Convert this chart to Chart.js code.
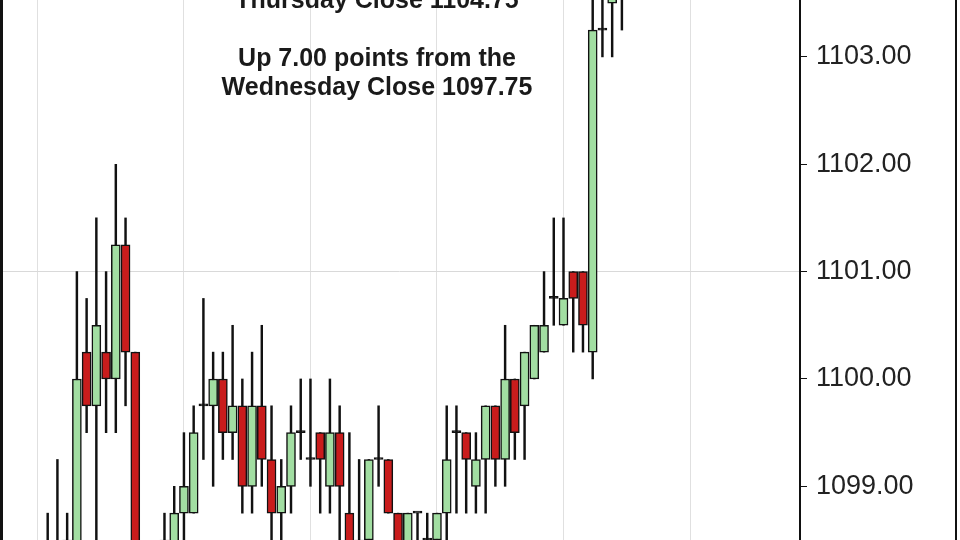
<!DOCTYPE html>
<html>
<head>
<meta charset="utf-8">
<title>ES Thursday Close</title>
<script src="https://cdn.jsdelivr.net/npm/chart.js@4.4.1/dist/chart.umd.min.js"></script>
<style>
    html, body { margin: 0; padding: 0; background: #ffffff; }
    #wrap { width: 960px; height: 540px; position: relative; }
</style>
</head>
<body>
<div id="wrap"><canvas id="candleChart"></canvas></div>
<script>
// Candle values (0.25 point steps)
const opens  = [1098.25, 1098.0, 1098.25, 1098.25, 1100.25, 1099.75, 1100.25, 1100.0, 1101.25, 1100.25,
                1098.0, 1097.75, 1098.0, 1098.25, 1098.75, 1098.75, 1099.75, 1099.75, 1100.0, 1099.5,
                1099.75, 1099.0, 1099.75, 1099.25, 1098.75, 1099.0, 1099.5, 1099.25, 1099.5, 1099.0,
                1099.5, 1098.75, 1098.25, 1098.5, 1099.25, 1099.25, 1098.75, 1098.25, 1098.75, 1098.5,
                1098.5, 1098.75, 1099.5, 1099.5, 1099.0, 1099.25, 1099.75, 1099.25, 1100.0, 1099.75,
                1100.0, 1100.25, 1100.75, 1100.5, 1101.0, 1101.0, 1100.25, 1103.25, 1103.5, 1104.5];
const highs  = [1098.75, 1099.25, 1098.75, 1101.0, 1100.75, 1101.5, 1101.0, 1102.0, 1101.5, 1100.25,
                1098.25, 1098.25, 1098.75, 1099.0, 1099.5, 1099.75, 1100.75, 1100.25, 1100.25, 1100.5,
                1100.0, 1100.25, 1100.5, 1099.75, 1099.25, 1099.75, 1100.0, 1100.0, 1099.5, 1100.0,
                1099.75, 1099.5, 1099.25, 1099.25, 1099.75, 1099.25, 1098.75, 1098.75, 1098.75, 1098.75,
                1098.75, 1099.75, 1099.75, 1099.5, 1099.5, 1099.75, 1099.75, 1100.5, 1100.0, 1100.25,
                1100.5, 1101.0, 1101.5, 1101.5, 1101.0, 1101.0, 1103.75, 1103.75, 1104.75, 1105.0];
const lows   = [1097.75, 1097.75, 1098.0, 1098.0, 1099.5, 1098.25, 1099.5, 1099.5, 1099.75, 1098.0,
                1097.5, 1097.5, 1097.75, 1098.0, 1098.25, 1098.75, 1099.25, 1099.0, 1099.25, 1099.25,
                1098.75, 1098.75, 1099.0, 1098.25, 1098.25, 1098.75, 1099.25, 1099.0, 1098.75, 1098.75,
                1098.25, 1098.0, 1098.0, 1098.25, 1099.0, 1098.75, 1098.0, 1098.0, 1098.25, 1098.25,
                1098.25, 1098.5, 1098.75, 1098.75, 1098.75, 1098.75, 1099.0, 1099.0, 1099.25, 1099.25,
                1100.0, 1100.25, 1100.5, 1100.5, 1100.25, 1100.25, 1100.0, 1103.0, 1103.0, 1103.25];
const closes = [1098.0, 1098.25, 1098.5, 1100.0, 1099.75, 1100.5, 1100.0, 1101.25, 1100.25, 1098.25,
                1097.75, 1098.0, 1098.5, 1098.75, 1099.0, 1099.5, 1099.75, 1100.0, 1099.5, 1099.75,
                1099.0, 1099.75, 1099.25, 1098.75, 1099.0, 1099.5, 1099.5, 1099.25, 1099.25, 1099.5,
                1099.0, 1098.25, 1098.5, 1099.25, 1099.25, 1098.75, 1098.25, 1098.75, 1098.75, 1098.5,
                1098.75, 1099.25, 1099.5, 1099.25, 1099.25, 1099.75, 1099.25, 1100.0, 1099.5, 1100.25,
                1100.5, 1100.5, 1100.75, 1100.75, 1100.75, 1100.5, 1103.25, 1103.25, 1104.5, 1104.75];

const priceTicks = [1099, 1100, 1101, 1102, 1103];
const refLevel = 1101;                    // the one horizontal grid line
const timeGrid = [-1, 14, 27, 40, 53, 66]; // vertical grid lines (bar index)
const noteLines = ['Thursday Close 1104.75', '', 'Up 7.00 points from the', 'Wednesday Close 1097.75'];

const upColor = '#a2dea2';
const downColor = '#c91c1c';

function bodyColor(i) {
    if (closes[i] > opens[i]) return upColor;
    if (closes[i] < opens[i]) return downColor;
    return '#111111';
}

// frame lines and the text block in the plot
const overlayPlugin = {
    id: 'overlay',
    afterDraw(chart) {
        const ctx = chart.ctx;
        const area = chart.chartArea;
        ctx.save();
        ctx.strokeStyle = '#111111';
        ctx.lineWidth = 3;
        ctx.beginPath();
        ctx.moveTo(1.5, 0);
        ctx.lineTo(1.5, chart.height);
        ctx.stroke();
        ctx.lineWidth = 2;
        ctx.beginPath();
        ctx.moveTo(chart.width - 4, 0);
        ctx.lineTo(chart.width - 4, chart.height);
        ctx.stroke();

        ctx.fillStyle = '#1a1a1a';
        ctx.font = 'bold 25px "Liberation Sans", Arial, sans-serif';
        ctx.textAlign = 'center';
        ctx.textBaseline = 'alphabetic';
        noteLines.forEach((line, k) => {
            if (line) ctx.fillText(line, 377, area.top + 8 + k * 29);
        });
        ctx.restore();
    }
};

function createCandleChart() {
    const ctx = document.getElementById('candleChart');

    const bodies = opens.map((o, i) => ({ x: i, y: [o, closes[i]] }));
    const wicks = lows.map((l, i) => ({ x: i, y: [l, highs[i]] }));

    new Chart(ctx, {
        type: 'bar',
        data: {
            datasets: [
                {
                    label: 'Body',
                    data: bodies,
                    backgroundColor: opens.map((o, i) => bodyColor(i)),
                    borderColor: '#111111',
                    borderWidth: 1.5,
                    borderSkipped: false,
                    barThickness: 9,
                    minBarLength: 2,
                    grouped: false,
                    order: 0
                },
                {
                    label: 'Range',
                    data: wicks,
                    backgroundColor: '#111111',
                    borderWidth: 0,
                    barThickness: 1.8,
                    grouped: false,
                    order: 1
                }
            ]
        },
        options: {
            responsive: true,
            maintainAspectRatio: false,
            animation: false,
            layout: { padding: 0 },
            scales: {
                x: {
                    type: 'linear',
                    min: -4.9,
                    max: 77.3,
                    offset: false,
                    afterBuildTicks: scale => {
                        scale.ticks = timeGrid.map(v => ({ value: v }));
                    },
                    afterFit: scale => {
                        scale.height = 0;
                    },
                    ticks: { display: false },
                    border: { display: false },
                    grid: {
                        offset: false,
                        color: '#e0e0e0',
                        lineWidth: 1,
                        drawTicks: false
                    }
                },
                y: {
                    position: 'right',
                    min: 1098.5,
                    max: 1103.53,
                    afterBuildTicks: scale => {
                        scale.ticks = priceTicks.map(v => ({ value: v }));
                    },
                    afterFit: scale => {
                        scale.width = 160;
                        scale.paddingTop = 0;
                        scale.paddingBottom = 0;
                    },
                    ticks: {
                        color: '#222222',
                        padding: 9,
                        font: { family: '"Liberation Sans", Arial, sans-serif', size: 27 },
                        callback: value => value.toFixed(2)
                    },
                    border: { display: true, color: '#111111', width: 2 },
                    grid: {
                        color: c => (c.tick && c.tick.value === refLevel) ? '#d9d9d9' : 'rgba(0,0,0,0)',
                        tickColor: '#111111',
                        tickLength: 7,
                        lineWidth: 1
                    }
                }
            },
            plugins: {
                legend: { display: false },
                tooltip: { enabled: false }
            }
        },
        plugins: [overlayPlugin]
    });
}

createCandleChart();
</script>
</body>
</html>
